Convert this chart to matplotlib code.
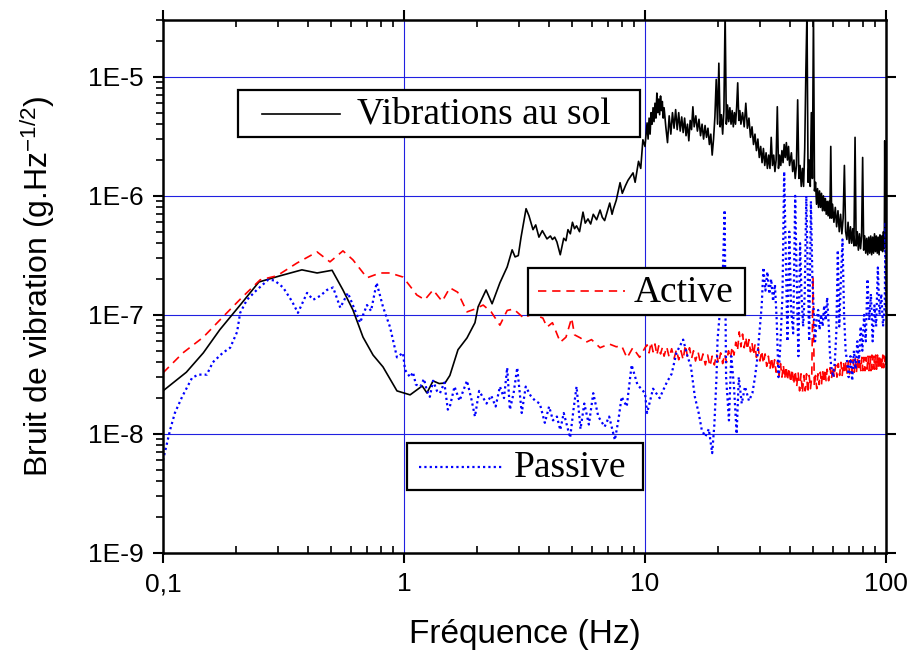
import numpy as np
import matplotlib
matplotlib.use("Agg")
import matplotlib.pyplot as plt
from matplotlib.lines import Line2D
from matplotlib.patches import Rectangle
from matplotlib.ticker import FixedLocator, FixedFormatter, LogLocator, NullFormatter

# ---- data ----
# Vibrations au sol (ground noise), low-frequency part in g.Hz^-1/2
f_sol_lo = [0.100, 0.125, 0.147, 0.172, 0.209, 0.250, 0.306, 0.377, 0.436, 0.503,
            0.558, 0.614, 0.676, 0.744, 0.818, 0.935, 1.06, 1.19, 1.245, 1.32,
            1.40, 1.48, 1.55, 1.675, 1.825, 1.97, 2.03, 2.19, 2.32, 2.50,
            2.68, 2.81, 2.89, 2.98, 3.06, 3.21, 3.30, 3.43, 3.52, 3.63,
            3.75, 3.92, 4.05, 4.13, 4.22, 4.31, 4.45, 4.60, 4.70, 4.79,
            4.90, 5.00, 5.10, 5.20, 5.35, 5.53, 5.65, 5.80, 5.95, 6.10,
            6.30, 6.51, 6.65, 6.80, 6.95, 7.14, 7.30, 7.40, 7.60, 7.88,
            8.05, 8.30, 8.50, 8.92, 9.10, 9.40, 9.60, 9.80, 10.0]
v_sol_lo = [2.3e-8, 3.3e-8, 4.8e-8, 7.5e-8, 1.21e-7, 1.89e-7, 2.13e-7, 2.39e-7, 2.25e-7, 2.37e-7,
            1.62e-7, 1.10e-7, 6.5e-8, 4.6e-8, 3.66e-8, 2.3e-8, 2.13e-8, 2.53e-8, 2.21e-8, 2.79e-8,
            2.65e-8, 2.68e-8, 3.1e-8, 5.1e-8, 6.4e-8, 8.6e-8, 1.17e-7, 1.62e-7, 1.24e-7, 1.86e-7,
            2.53e-7, 3.52e-7, 3.07e-7, 3.15e-7, 4.5e-7, 7.8e-7, 6.8e-7, 5.2e-7, 5.7e-7, 4.5e-7,
            5.1e-7, 4.35e-7, 4.6e-7, 4.3e-7, 4.5e-7, 4.1e-7, 3.2e-7, 4.4e-7, 4.2e-7, 5.2e-7,
            4.8e-7, 6.0e-7, 5.3e-7, 5.6e-7, 5.0e-7, 7.3e-7, 5.9e-7, 6.4e-7, 5.8e-7, 7.0e-7,
            6.3e-7, 7.6e-7, 6.6e-7, 6.2e-7, 7.2e-7, 8.7e-7, 7.0e-7, 7.8e-7, 9.2e-7, 1.29e-6,
            1.05e-6, 1.22e-6, 1.35e-6, 1.56e-6, 1.30e-6, 1.95e-6, 1.70e-6, 2.96e-6, 2.60e-6]
# high-frequency part, values in units of 1e-7 g.Hz^-1/2
f_sol_hi = [10.2, 10.3, 10.4, 10.5, 10.6, 10.7, 10.8, 10.9, 11.0, 11.1,
            11.2, 11.3, 11.4, 11.5, 11.6, 11.7, 11.8, 11.9, 12.0, 12.2,
            12.4, 12.6, 12.8, 13.0, 13.2, 13.4, 13.6, 13.8, 14.0, 14.2,
            14.4, 14.6, 14.8, 15.0, 15.2, 15.4, 15.6, 15.8, 16.0, 16.25,
            16.5, 16.75, 17.0, 17.25, 17.5, 17.75, 18.0, 18.25, 18.5, 18.75,
            19.0, 19.25, 19.5, 19.75, 20.0, 20.25, 20.5, 20.75, 21.0, 21.25,
            21.5, 21.75, 22.0, 22.25, 22.5, 22.75, 23.0, 23.25, 23.5, 23.75,
            24.0, 24.25, 24.5, 24.75, 25.0, 25.4, 25.8, 26.2, 26.6, 27.0,
            27.4, 27.8, 28.2, 28.6, 29.0, 29.4, 29.8, 30.2, 30.6, 31.0,
            31.4, 31.8, 32.2, 32.6, 33.0, 33.4, 33.8, 34.2, 34.6, 35.0,
            35.4, 35.8, 36.2, 36.6, 37.0, 37.4, 37.8, 38.2, 38.6, 39.0,
            39.4, 39.8, 40.5, 41.0, 41.5, 42.0, 42.5, 43.0, 43.5, 44.0,
            44.5, 45.0, 45.5, 46.0, 46.5, 47.0, 47.5, 48.0, 48.5, 49.0,
            49.5, 50.0, 50.5, 51.0, 51.5, 52.0, 52.5, 53.0, 53.5, 54.0,
            54.5, 55.0, 55.5, 56.0, 56.5, 57.0, 57.5, 58.0, 58.5, 59.0,
            59.5, 60.0, 60.8, 61.6, 62.4, 63.2, 64.0, 64.8, 65.6, 66.4,
            67.2, 68.0, 68.8, 69.6, 70.4, 71.2, 72.0, 72.8, 73.6, 74.4,
            75.2, 76.0, 76.8, 77.6, 78.4, 79.2, 80.0, 80.8, 81.6, 82.4,
            83.2, 84.0, 84.8, 85.6, 86.4, 87.2, 88.0, 88.8, 89.6, 90.4,
            91.2, 92.0, 92.8, 93.6, 94.4, 95.2, 96.0, 96.8, 97.6, 98.4,
            98.8, 99.2, 100.0]
v_sol_hi = [41, 30, 45, 33, 50, 40, 55, 42, 60, 45,
            73, 50, 65, 48, 69, 52, 62, 45, 55, 38,
            28, 47, 33, 50, 37, 53, 36, 50, 35, 46,
            34, 45, 32, 40, 29, 43, 36, 56, 38, 47,
            35, 44, 32, 40, 30, 39, 31, 37, 27, 33,
            22, 30, 46, 95, 40, 130, 38, 48, 33, 52,
            350, 40, 58, 42, 55, 40, 52, 38, 50, 40,
            55, 89, 43, 52, 40, 50, 38, 60, 37, 45,
            31, 38, 27, 33, 24, 30, 21, 26, 19, 25,
            18, 23, 17, 22, 17, 31, 18, 22, 16, 20,
            56, 17, 22, 18, 24, 19, 27, 21, 28, 20,
            26, 18, 23, 16, 20, 14, 18, 64, 14, 18,
            12, 17, 12, 25, 110, 350, 13, 20, 12, 50,
            14, 350, 11, 13, 8.5, 11.5, 8.0, 11, 8.0, 10.5,
            7.5, 10, 7.5, 9.5, 7.0, 9.0, 6.8, 9.0, 6.5, 26,
            6.5, 8.5, 6.0, 8.0, 5.5, 7.5, 5.0, 7.0, 4.8, 6.5,
            18, 5.0, 4.3, 6.0, 4.0, 5.5, 4.0, 5.3, 3.8, 31,
            3.8, 5.0, 3.5, 4.8, 3.6, 4.6, 21, 3.5, 4.6, 3.3,
            4.4, 3.2, 4.5, 3.3, 4.6, 3.2, 4.5, 3.3, 4.8, 3.4,
            4.6, 3.3, 4.5, 3.2, 4.7, 3.5, 4.6, 3.4, 5.0, 3.6,
            29, 4.0, 5.2]

# Active isolation, low-frequency part in g.Hz^-1/2
f_active_lo = [0.100, 0.121, 0.147, 0.177, 0.214, 0.253, 0.297, 0.360, 0.436, 0.493,
               0.558, 0.614, 0.702, 0.795, 0.875, 0.990, 1.09, 1.13, 1.22, 1.32,
               1.44, 1.55, 1.67, 1.825, 1.97, 2.13, 2.30, 2.50, 2.68, 2.85,
               3.14, 3.40, 3.77, 3.92, 4.13, 4.45, 4.70, 4.96, 5.10, 5.40,
               5.70, 6.00, 6.51, 7.10, 7.60, 8.00, 8.42, 8.90, 9.50, 10.0]
v_active_lo = [3.26e-8, 4.8e-8, 6.5e-8, 9.6e-8, 1.42e-7, 1.97e-7, 2.13e-7, 2.73e-7, 3.38e-7, 2.79e-7,
               3.45e-7, 2.9e-7, 2.05e-7, 2.25e-7, 2.25e-7, 2.08e-7, 1.62e-7, 1.47e-7, 1.34e-7, 1.62e-7,
               1.3e-7, 1.69e-7, 1.55e-7, 1.06e-7, 1.12e-7, 1.21e-7, 1.06e-7, 8.2e-8, 1.09e-7, 1.12e-7,
               9.4e-8, 1.02e-7, 9.4e-8, 7.9e-8, 8.6e-8, 5.9e-8, 6.5e-8, 9.4e-8, 6.8e-8, 6.4e-8,
               5.9e-8, 6.2e-8, 5.3e-8, 5.7e-8, 5.4e-8, 5.5e-8, 4.35e-8, 5.3e-8, 4.4e-8, 5.3e-8]
# high-frequency part, values in units of 1e-8 g.Hz^-1/2
f_active_hi = [10.2, 10.4, 10.6, 10.8, 11.0, 11.2, 11.4, 11.6, 11.8, 12.0,
               12.3, 12.6, 12.9, 13.2, 13.5, 13.8, 14.1, 14.4, 14.7, 15.0,
               15.3, 15.6, 15.9, 16.2, 16.6, 17.0, 17.4, 17.8, 18.2, 18.6,
               19.0, 19.4, 19.8, 20.2, 20.6, 21.0, 21.4, 21.8, 22.2, 22.6,
               23.0, 23.4, 23.8, 24.2, 24.6, 25.0, 25.4, 25.8, 26.2, 26.6,
               27.0, 27.4, 27.8, 28.2, 28.6, 29.0, 29.5, 30.0, 30.5, 31.0,
               31.5, 32.0, 32.5, 33.0, 33.5, 34.0, 34.5, 35.0, 35.5, 36.0,
               36.5, 37.0, 37.5, 38.0, 38.5, 39.0, 39.6, 40.2, 40.8, 41.4,
               42.0, 42.6, 43.2, 43.8, 44.4, 45.0, 45.6, 46.2, 46.8, 47.4,
               48.0, 48.6, 49.2, 49.8, 50.4, 51.0, 51.6, 52.2, 52.8, 53.4,
               54.0, 54.6, 55.2, 55.8, 56.4, 57.0, 57.8, 58.6, 59.4, 60.2,
               61.0, 61.8, 62.6, 63.4, 64.2, 65.0, 65.8, 66.6, 67.4, 68.2,
               69.0, 69.8, 70.6, 71.4, 72.2, 73.0, 73.8, 74.6, 75.4, 76.2,
               77.0, 77.8, 78.6, 79.4, 80.2, 81.0, 81.8, 82.6, 83.4, 84.2,
               85.0, 85.8, 86.6, 87.4, 88.2, 89.0, 89.8, 90.6, 91.4, 92.2,
               93.0, 93.8, 94.6, 95.4, 96.2, 97.0, 97.8, 98.6, 99.4, 100.0]
v_active_hi = [5.6, 4.8, 5.9, 4.9, 5.7, 4.6, 5.5, 4.7, 5.3, 4.5,
               5.4, 4.4, 5.2, 4.3, 5.1, 4.2, 5.0, 4.2, 5.6, 4.5,
               5.3, 4.3, 5.0, 4.1, 4.9, 3.9, 4.7, 3.8, 4.6, 3.7,
               4.5, 3.8, 4.7, 3.9, 4.8, 3.9, 4.7, 4.0, 5.0, 4.3,
               5.4, 4.6, 5.9, 5.0, 7.2, 5.4, 6.9, 5.3, 6.5, 5.1,
               6.2, 4.9, 5.8, 4.6, 5.6, 4.4, 5.3, 4.1, 5.0, 3.9,
               4.7, 3.7, 4.5, 3.5, 4.4, 3.4, 4.2, 3.3, 4.1, 3.1,
               3.9, 3.0, 3.8, 2.9, 3.7, 2.8, 3.6, 2.7, 3.5, 2.6,
               3.4, 2.5, 3.3, 2.3, 3.2, 2.2, 3.1, 2.3, 3.2, 2.2,
               3.1, 2.4, 3.0, 21, 2.5, 3.1, 2.4, 3.2, 2.6, 3.3,
               2.6, 3.4, 2.7, 3.5, 2.8, 3.5, 2.8, 3.6, 2.9, 3.7,
               3.0, 3.8, 3.0, 3.9, 3.1, 4.0, 3.1, 4.0, 3.2, 4.1,
               3.2, 4.1, 3.2, 4.2, 3.3, 4.2, 3.3, 4.3, 3.3, 4.3,
               3.4, 4.3, 3.4, 4.4, 3.4, 4.4, 3.4, 4.4, 3.5, 4.5,
               3.4, 4.5, 3.4, 4.6, 3.5, 4.5, 3.5, 4.6, 3.5, 4.6,
               3.6, 4.6, 3.5, 4.5, 3.6, 4.6, 3.6, 4.5, 3.7, 4.4]

# Passive isolation, g.Hz^-1/2
f_passive = [0.100, 0.107, 0.112, 0.120, 0.132, 0.140, 0.152, 0.161, 0.177, 0.190,
             0.203, 0.209, 0.223, 0.245, 0.273, 0.290, 0.315, 0.343, 0.363, 0.396,
             0.420, 0.450, 0.479, 0.508, 0.544, 0.585, 0.625, 0.657, 0.702, 0.730,
             0.770, 0.818, 0.875, 0.935, 0.990, 1.01, 1.06, 1.09, 1.12, 1.17,
             1.21, 1.245, 1.28, 1.32, 1.37, 1.41, 1.47, 1.52, 1.55, 1.62,
             1.70, 1.825, 1.90, 1.97, 2.05, 2.20, 2.30, 2.40, 2.50, 2.60,
             2.68, 2.75, 2.85, 2.95, 3.08, 3.20, 3.35, 3.50, 3.66, 3.84,
             4.00, 4.15, 4.31, 4.45, 4.60, 4.89, 5.05, 5.20, 5.40, 5.60,
             5.85, 6.10, 6.40, 6.80, 7.10, 7.50, 7.75, 8.00, 8.40, 8.80,
             9.30, 10.0, 10.2, 10.8, 11.5, 12.3, 12.9, 13.5, 14.4, 15.0,
             15.5, 16.1, 16.7, 17.2, 17.8, 18.4, 19.0, 19.4, 19.8, 20.0,
             21.0, 21.4, 21.7, 22.3, 22.8, 23.4, 24.0, 24.5, 25.2, 26.0,
             27.0, 27.9, 28.6, 29.2, 30.0, 30.5, 31.0, 31.6, 32.2, 32.8,
             33.4, 34.0, 34.6, 35.2, 35.8, 36.5, 37.2, 37.8, 38.4, 39.0,
             39.7, 40.4, 41.2, 42.0, 42.6, 43.3, 44.0, 44.6, 45.3, 46.0,
             46.7, 47.3, 48.0, 48.8, 49.5, 50.2, 50.8, 51.5, 52.3, 53.0,
             53.8, 54.6, 55.4, 56.2, 57.0, 57.8, 58.6, 59.5, 60.4, 61.3,
             62.2, 63.1, 64.0, 65.0, 66.0, 67.0, 68.0, 69.0, 70.0, 71.2,
             72.4, 73.6, 74.8, 76.0, 77.2, 78.5, 79.8, 81.1, 82.4, 83.8,
             85.2, 86.6, 88.0, 89.5, 91.0, 92.5, 94.0, 95.6, 97.2, 98.8,
             99.5, 100.0]
v_passive = [6.0e-9, 1.08e-8, 1.5e-8, 2.05e-8, 2.96e-8, 3.15e-8, 3.15e-8, 4.0e-8, 4.8e-8, 5.3e-8,
             7.2e-8, 1.04e-7, 1.34e-7, 1.62e-7, 1.97e-7, 1.95e-7, 1.7e-7, 1.3e-7, 1.04e-7, 1.53e-7,
             1.34e-7, 1.45e-7, 1.62e-7, 1.7e-7, 1.15e-7, 1.53e-7, 1.1e-7, 8.6e-8, 1.21e-7, 1.08e-7,
             1.86e-7, 1.17e-7, 7.9e-8, 4.4e-8, 4.8e-8, 3.45e-8, 3.0e-8, 3.3e-8, 2.6e-8, 2.5e-8,
             2.9e-8, 2.3e-8, 2.05e-8, 2.8e-8, 2.3e-8, 2.2e-8, 2.7e-8, 1.6e-8, 1.7e-8, 2.5e-8,
             1.9e-8, 2.8e-8, 2.0e-8, 1.4e-8, 2.3e-8, 1.8e-8, 2.1e-8, 1.7e-8, 2.5e-8, 2.0e-8,
             3.6e-8, 1.6e-8, 2.2e-8, 3.6e-8, 1.5e-8, 2.5e-8, 2.1e-8, 1.9e-8, 1.8e-8, 1.24e-8,
             1.7e-8, 1.3e-8, 1.4e-8, 1.08e-8, 1.5e-8, 9.3e-9, 1.6e-8, 2.5e-8, 1.1e-8, 1.8e-8,
             1.2e-8, 2.2e-8, 1.4e-8, 1.15e-8, 1.4e-8, 8.9e-9, 1.3e-8, 2.05e-8, 1.7e-8, 3.8e-8,
             2.6e-8, 2.2e-8, 1.5e-8, 2.4e-8, 2.0e-8, 2.7e-8, 3.2e-8, 4.8e-8, 6.2e-8, 4.5e-8,
             3.7e-8, 2.05e-8, 1.5e-8, 1.08e-8, 9.5e-9, 1.1e-8, 6.9e-9, 1.2e-8, 3.0e-8, 6.2e-8,
             2.0e-7, 7.6e-7, 3.0e-8, 1.3e-8, 4.5e-8, 2.5e-8, 1.0e-8, 3.0e-8, 1.8e-8, 2.5e-8,
             1.9e-8, 2.2e-8, 3.0e-8, 4.2e-8, 8.0e-8, 1.2e-7, 2.5e-7, 1.6e-7, 2.3e-7, 1.5e-7,
             2.0e-7, 1.3e-7, 1.8e-7, 9.0e-8, 3.0e-8, 6.0e-8, 1.5e-7, 1.6e-6, 3.0e-7, 6.0e-8,
             5.0e-7, 1.1e-7, 7.0e-8, 1.0e-6, 2.0e-7, 4.5e-8, 4.0e-7, 1.5e-7, 8.0e-8, 1.5e-7,
             1.0e-6, 2.5e-7, 6.0e-8, 9.0e-7, 2.0e-7, 1.0e-7, 6.0e-8, 9.0e-8, 1.1e-7, 7.5e-8,
             1.0e-7, 8.0e-8, 1.2e-7, 9.0e-8, 1.4e-7, 8.5e-8, 4.5e-8, 3.5e-8, 3.0e-8, 4.0e-8,
             7.0e-8, 3.5e-7, 8.0e-8, 2.0e-7, 4.3e-7, 1.0e-7, 5.0e-8, 4.0e-8, 3.0e-8, 4.5e-8,
             2.8e-8, 5.0e-8, 3.5e-8, 6.0e-8, 4.0e-8, 8.0e-8, 5.0e-8, 1.0e-7, 6.0e-8, 2.0e-7,
             9.0e-8, 1.5e-7, 6.0e-8, 1.2e-7, 8.0e-8, 2.5e-7, 1.0e-7, 1.5e-7, 8.0e-8, 1.2e-7,
             6.0e-7, 1.0e-7]

# axis ticks
x_ticks = [0.1, 1, 10, 100]
x_tick_labels = ["0,1", "1", "10", "100"]
y_ticks = [1e-9, 1e-8, 1e-7, 1e-6, 1e-5]
y_tick_labels = ["1E-9", "1E-8", "1E-7", "1E-6", "1E-5"]

# join the two parts of the noisy curves
f_sol = f_sol_lo + f_sol_hi
v_sol = v_sol_lo + [v * 1e-7 for v in v_sol_hi]
f_active = f_active_lo + f_active_hi
v_active = v_active_lo + [v * 1e-8 for v in v_active_hi]

plt.rcParams['font.family'] = ['Liberation Sans', 'DejaVu Sans']
plt.rcParams['mathtext.fontset'] = 'custom'
plt.rcParams['mathtext.rm'] = 'Liberation Sans'
plt.rcParams['mathtext.it'] = 'Liberation Sans:italic'

W, H = 911, 655
fig = plt.figure(figsize=(W / 100, H / 100), dpi=100)
ax = fig.add_axes([163/W, 1 - 553/H, (886 - 163)/W, (553 - 20)/H])

ax.set_xscale('log')
ax.set_yscale('log')
ax.set_xlim(0.1, 100)
ax.set_ylim(1e-9, 3e-5)

# grid at the major decades (blue, thin)
for xv in [1, 10]:
    ax.axvline(xv, color='#2020e0', lw=0.8, zorder=0)
for yv in [1e-8, 1e-7, 1e-6, 1e-5]:
    ax.axhline(yv, color='#2020e0', lw=0.8, zorder=0)

# curves
sol_style = dict(color='black', lw=1.2)
act_style = dict(color='red', lw=1.2, linestyle=(0, (5, 3.5)))
pas_style = dict(color='blue', lw=1.6, linestyle=(0, (1.0, 1.4)))
ax.plot(f_sol, v_sol, **sol_style)
ax.plot(f_active, v_active, **act_style)
ax.plot(f_passive, v_passive, **pas_style)

# ticks
ax.xaxis.set_major_locator(FixedLocator(x_ticks))
ax.xaxis.set_major_formatter(FixedFormatter(x_tick_labels))
ax.yaxis.set_major_locator(FixedLocator(y_ticks))
ax.yaxis.set_major_formatter(FixedFormatter(y_tick_labels))
ax.xaxis.set_minor_locator(LogLocator(base=10, subs=np.arange(2, 10), numticks=20))
ax.yaxis.set_minor_locator(LogLocator(base=10, subs=np.arange(2, 10), numticks=20))
ax.xaxis.set_minor_formatter(NullFormatter())
ax.yaxis.set_minor_formatter(NullFormatter())

ax.tick_params(which='major', direction='out', length=7, width=1.5, labelsize=19,
               top=True, right=True, pad=7)
ax.tick_params(axis='x', which='minor', direction='in', length=5, width=1.2, top=True)
ax.tick_params(axis='y', which='minor', direction='out', length=5, width=1.2, right=False)
for s in ax.spines.values():
    s.set_linewidth(1.8)

ax.set_xlabel('Fréquence (Hz)', fontsize=24, labelpad=16)
ax.set_ylabel('Bruit de vibration (g.Hz$^{-1/2}$)', fontsize=23, labelpad=22)


# Origin-style legend boxes, placed in figure pixels (top-left origin)
def legend_box(box, line_x, text_x, label, style):
    x0, y0, x1, y1 = box
    yc = (y0 + y1) / 2
    fig.add_artist(Rectangle((x0/W, 1 - y1/H), (x1 - x0)/W, (y1 - y0)/H,
                             transform=fig.transFigure, facecolor='white',
                             edgecolor='black', lw=1.6, zorder=5))
    fig.add_artist(Line2D([line_x[0]/W, line_x[1]/W], [1 - yc/H, 1 - yc/H],
                          transform=fig.transFigure, zorder=6, **style))
    fig.text(text_x/W, 1 - (yc + 1)/H, label, family='Liberation Serif', fontsize=27,
             ha='left', va='center', zorder=6)


legend_box((238, 90, 640, 137), (262, 340), 357, 'Vibrations au sol', sol_style)
legend_box((528, 268, 745, 315), (538, 625), 634, 'Active', act_style)
legend_box((407, 443, 643, 490), (419, 502), 514, 'Passive', pas_style)

fig.savefig('out.png', dpi=100)
